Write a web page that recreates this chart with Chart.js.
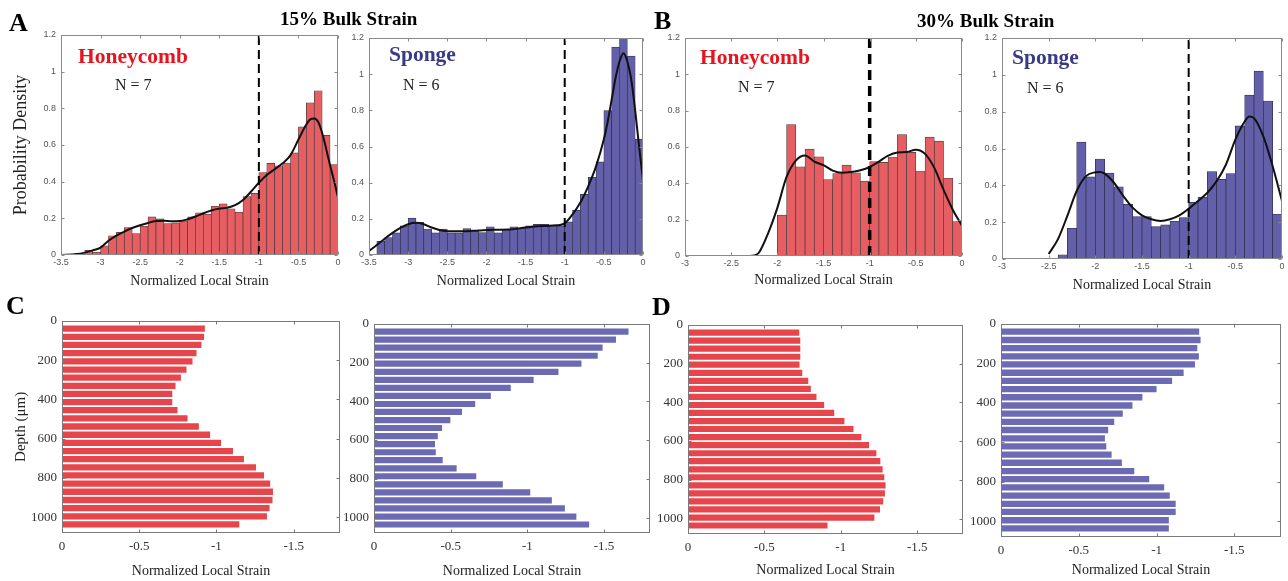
<!DOCTYPE html>
<html><head><meta charset="utf-8">
<script src="https://cdn.jsdelivr.net/npm/chart.js@4.4.1/dist/chart.umd.min.js"></script>
<style>
html,body{margin:0;padding:0;background:#fff;}
body{width:1288px;height:581px;position:relative;overflow:hidden;}
canvas{position:absolute;}
.t{position:absolute;white-space:nowrap;line-height:1;font-family:"Liberation Serif","Times New Roman",serif;}
</style></head><body>
<script>
// ---------------- DATA ----------------
// Histogram tick labels
const histYTicks = [0, 0.2, 0.4, 0.6, 0.8, 1, 1.2];
const histXTicks15 = [-3.5, -3, -2.5, -2, -1.5, -1, -0.5, 0];
const histXTicks30 = [-3, -2.5, -2, -1.5, -1, -0.5, 0];
const thresholdStrain = -1;

// A: 15% bulk strain, Honeycomb (bin centres and densities)
const binsA1 = [-3.15,-3.05,-2.95,-2.85,-2.75,-2.65,-2.55,-2.45,-2.35,-2.25,-2.15,-2.05,-1.95,-1.85,-1.75,-1.65,-1.55,-1.45,-1.35,-1.25,-1.15,-1.05,-0.95,-0.85,-0.75,-0.65,-0.55,-0.45,-0.35,-0.25,-0.15,-0.05];
const densA1 = [0.025,0.016,0.05,0.105,0.124,0.15,0.117,0.157,0.208,0.197,0.172,0.175,0.186,0.208,0.23,0.223,0.266,0.279,0.252,0.234,0.318,0.336,0.45,0.5,0.487,0.502,0.557,0.699,0.83,0.896,0.653,0.493];
const kdeA1X = [-3.5,-3.3,-3.2,-3.1,-3.0,-2.9,-2.8,-2.7,-2.6,-2.5,-2.4,-2.3,-2.2,-2.1,-2.0,-1.9,-1.8,-1.7,-1.6,-1.5,-1.4,-1.3,-1.2,-1.1,-1.0,-0.9,-0.8,-0.7,-0.6,-0.5,-0.4,-0.35,-0.3,-0.25,-0.2,-0.15,-0.1,-0.05,0];
const kdeA1Y = [0,0.005,0.013,0.025,0.04,0.078,0.106,0.128,0.147,0.162,0.175,0.185,0.187,0.184,0.185,0.195,0.21,0.228,0.243,0.253,0.258,0.272,0.3,0.345,0.394,0.436,0.468,0.5,0.545,0.63,0.712,0.74,0.745,0.725,0.665,0.58,0.49,0.405,0.315];

// A: 15% bulk strain, Sponge
const binsA2 = [-3.35,-3.25,-3.15,-3.05,-2.95,-2.85,-2.75,-2.65,-2.55,-2.45,-2.35,-2.25,-2.15,-2.05,-1.95,-1.85,-1.75,-1.65,-1.55,-1.45,-1.35,-1.25,-1.15,-1.05,-0.95,-0.85,-0.75,-0.65,-0.55,-0.45,-0.35,-0.25,-0.15,-0.05];
const densA2 = [0.076,0.096,0.122,0.161,0.204,0.181,0.144,0.122,0.144,0.122,0.122,0.146,0.137,0.124,0.156,0.122,0.141,0.156,0.15,0.161,0.17,0.17,0.163,0.161,0.183,0.248,0.335,0.43,0.515,0.798,1.15,1.2,1.1,0.641];
const kdeA2X = [-3.5,-3.4,-3.3,-3.2,-3.1,-3.0,-2.9,-2.8,-2.7,-2.6,-2.5,-2.3,-2.1,-1.9,-1.7,-1.5,-1.3,-1.1,-1.0,-0.9,-0.8,-0.7,-0.6,-0.5,-0.45,-0.4,-0.35,-0.3,-0.25,-0.2,-0.15,-0.1,-0.05,0];
const kdeA2Y = [0.022,0.055,0.09,0.122,0.15,0.17,0.178,0.17,0.152,0.138,0.132,0.131,0.136,0.14,0.141,0.152,0.16,0.164,0.175,0.225,0.29,0.38,0.49,0.64,0.74,0.86,0.98,1.07,1.115,1.07,0.97,0.8,0.6,0.415];

// B: 30% bulk strain, Honeycomb
const binsB1 = [-1.95,-1.85,-1.75,-1.65,-1.55,-1.45,-1.35,-1.25,-1.15,-1.05,-0.95,-0.85,-0.75,-0.65,-0.55,-0.45,-0.35,-0.25,-0.15,-0.05];
const densB1 = [0.225,0.724,0.491,0.588,0.546,0.421,0.454,0.5,0.458,0.412,0.52,0.515,0.545,0.668,0.57,0.468,0.655,0.632,0.428,0.19];
const kdeB1X = [-2.5,-2.4,-2.3,-2.25,-2.2,-2.1,-2.0,-1.9,-1.8,-1.7,-1.6,-1.5,-1.4,-1.3,-1.2,-1.1,-1.0,-0.9,-0.8,-0.7,-0.6,-0.5,-0.4,-0.3,-0.2,-0.1,0];
const kdeB1Y = [0,0,0,0.003,0.018,0.125,0.265,0.435,0.525,0.553,0.52,0.5,0.47,0.458,0.462,0.472,0.49,0.52,0.553,0.57,0.572,0.585,0.562,0.485,0.365,0.255,0.167];

// B: 30% bulk strain, Sponge
const binsB2 = [-2.35,-2.25,-2.15,-2.05,-1.95,-1.85,-1.75,-1.65,-1.55,-1.45,-1.35,-1.25,-1.15,-1.05,-0.95,-0.85,-0.75,-0.65,-0.55,-0.45,-0.35,-0.25,-0.15,-0.05];
const densB2 = [0.023,0.167,0.635,0.446,0.543,0.466,0.392,0.297,0.23,0.23,0.176,0.185,0.205,0.225,0.308,0.336,0.475,0.432,0.464,0.723,0.89,1.02,0.858,0.243];
const kdeB2X = [-2.5,-2.4,-2.3,-2.2,-2.1,-2.0,-1.95,-1.9,-1.8,-1.7,-1.6,-1.5,-1.4,-1.3,-1.2,-1.1,-1.0,-0.9,-0.8,-0.7,-0.6,-0.5,-0.4,-0.35,-0.3,-0.2,-0.1,0];
const kdeB2Y = [0.027,0.108,0.234,0.369,0.45,0.471,0.473,0.464,0.414,0.342,0.279,0.237,0.216,0.207,0.216,0.237,0.273,0.315,0.36,0.423,0.513,0.648,0.747,0.774,0.765,0.666,0.504,0.315];

// C / D: depth profiles
const depthTicks = [0, 200, 400, 600, 800, 1000];
const strainTicks = [0, -0.5, -1, -1.5];
const depthUm = [40,82,123,165,206,248,289,331,372,414,455,497,538,580,621,663,704,746,787,829,870,912,953,995,1036];
const strainC1 = [-0.925,-0.92,-0.903,-0.871,-0.845,-0.806,-0.77,-0.735,-0.714,-0.714,-0.748,-0.813,-0.886,-0.959,-1.03,-1.107,-1.178,-1.256,-1.308,-1.348,-1.366,-1.363,-1.344,-1.327,-1.148];
const strainC2 = [-1.66,-1.578,-1.491,-1.459,-1.353,-1.203,-1.041,-0.892,-0.762,-0.66,-0.574,-0.498,-0.444,-0.416,-0.398,-0.403,-0.448,-0.539,-0.667,-0.84,-1.019,-1.16,-1.245,-1.32,-1.403];
const strainD1 = [-0.728,-0.735,-0.735,-0.735,-0.73,-0.748,-0.787,-0.804,-0.841,-0.891,-0.957,-1.024,-1.083,-1.135,-1.185,-1.233,-1.259,-1.274,-1.285,-1.293,-1.289,-1.278,-1.257,-1.22,-0.913];
const strainD2 = [-1.274,-1.283,-1.262,-1.272,-1.247,-1.174,-1.1,-1.0,-0.909,-0.845,-0.783,-0.728,-0.689,-0.668,-0.677,-0.711,-0.777,-0.857,-0.953,-1.049,-1.085,-1.123,-1.123,-1.079,-1.079];

// ---------------- RENDER ----------------
const SERIF = "'Liberation Serif', 'Times New Roman', serif";
const SANS = "'Liberation Sans', Arial, sans-serif";
const PAD_TOP = 12, PAD_RIGHT = 14;

const boxPlugin = {
  id: 'matlabBox',
  afterDatasetsDraw(chart, args, opts) {
    const {ctx, chartArea: a, scales} = chart;
    const L = Math.round(a.left) + 0.5, R = Math.round(a.right) - 0.5;
    const T = Math.round(a.top) + 0.5, B = Math.round(a.bottom) - 0.5;
    ctx.save();
    ctx.strokeStyle = opts.color; ctx.lineWidth = 1;
    ctx.strokeRect(L, T, R - L, B - T);
    const len = opts.len;
    ctx.beginPath();
    scales.x.ticks.forEach(t => {
      const p = Math.round(scales.x.getPixelForValue(t.value)) + 0.5;
      ctx.moveTo(p, B); ctx.lineTo(p, B - len);
      ctx.moveTo(p, T); ctx.lineTo(p, T + len);
    });
    scales.y.ticks.forEach(t => {
      const p = Math.round(scales.y.getPixelForValue(t.value)) + 0.5;
      ctx.moveTo(L, p); ctx.lineTo(L + len, p);
      ctx.moveTo(R, p); ctx.lineTo(R - len, p);
    });
    ctx.stroke();
    ctx.restore();
  }
};

function makeCanvas(r, yW, xH) {
  const c = document.createElement('canvas');
  const w = r.R - r.L + yW + PAD_RIGHT, h = r.B - r.T + PAD_TOP + xH;
  c.width = w; c.height = h;
  c.style.left = (r.L - yW) + 'px'; c.style.top = (r.T - PAD_TOP) + 'px';
  c.style.width = w + 'px'; c.style.height = h + 'px';
  document.body.appendChild(c);
  return c;
}

function axis(tickVals, font, color, pad, fitFn, extra) {
  return Object.assign({
    type: 'linear',
    offset: false,
    grid: {display: false, drawTicks: false},
    border: {display: false},
    afterBuildTicks: s => { s.ticks = tickVals.map(v => ({value: v})); },
    afterFit: fitFn,
    ticks: {font, color, padding: pad, autoSkip: false, maxRotation: 0, minRotation: 0,
      callback: v => String(v)}
  }, extra);
}

function xTitle(size) {
  return {display: true, text: 'Normalized Local Strain', color: '#222',
    font: {family: SERIF, size: size}, padding: {top: 0, bottom: 0}};
}

function histChart(p) {
  const c = makeCanvas(p.rect, p.yW, p.xH);
  const tickFont = {family: SANS, size: 9};
  const yExtra = {min: 0, max: 1.2};
  if (p.yTitle) yExtra.title = {display: true, text: p.yTitle, color: '#222',
    font: {family: SERIF, size: 18}, padding: {top: 0, bottom: 0}};
  new Chart(c, {
    type: 'bar',
    data: {datasets: [
      {type: 'line', data: [{x: thresholdStrain, y: 0}, {x: thresholdStrain, y: 1.2}],
        borderColor: '#000', borderWidth: p.dashW, borderDash: p.dash, pointRadius: 0, order: 0},
      {type: 'line', data: p.kdeX.map((x, i) => ({x, y: p.kdeY[i]})),
        borderColor: '#111', borderWidth: 2, pointRadius: 0, cubicInterpolationMode: 'monotone', order: 1},
      {type: 'bar', data: p.bins.map((x, i) => ({x, y: p.dens[i]})),
        backgroundColor: p.color, borderColor: p.edge, borderWidth: 0.7,
        barPercentage: 1, categoryPercentage: 1, order: 2}
    ]},
    options: {
      responsive: false, animation: false, devicePixelRatio: 1,
      layout: {padding: {top: PAD_TOP, right: PAD_RIGHT, left: 0, bottom: 0}},
      plugins: {legend: {display: false}, tooltip: {enabled: false},
        matlabBox: {color: '#8a8a8a', len: 3}},
      scales: {
        x: axis(p.xTicks, tickFont, '#555', 2, s => { s.height = p.xH; },
          {min: p.xTicks[0], max: 0, title: xTitle(14)}),
        y: axis(histYTicks, tickFont, '#555', 5, s => { s.width = p.yW; }, yExtra)
      }
    },
    plugins: [boxPlugin]
  });
}

function depthChart(p) {
  const c = makeCanvas(p.rect, p.yW, p.xH);
  const tickFont = {family: SERIF, size: 13};
  const yExtra = {min: 0, max: 1080, reverse: true};
  if (p.yTitle) yExtra.title = {display: true, text: p.yTitle, color: '#222',
    font: {family: SERIF, size: 15}, padding: {top: 0, bottom: 0}};
  new Chart(c, {
    type: 'bar',
    data: {datasets: [{data: depthUm.map((d, i) => ({x: p.strain[i], y: d})),
      backgroundColor: p.color, borderWidth: 0, barPercentage: 0.78, categoryPercentage: 1}]},
    options: {
      indexAxis: 'y',
      responsive: false, animation: false, devicePixelRatio: 1,
      layout: {padding: {top: PAD_TOP, right: PAD_RIGHT, left: 0, bottom: 0}},
      plugins: {legend: {display: false}, tooltip: {enabled: false},
        matlabBox: {color: '#7a7a7a', len: 3}},
      scales: {
        x: axis(strainTicks, tickFont, '#333', 6, s => { s.height = p.xH; },
          {min: -1.8, max: 0, reverse: true, title: xTitle(14)}),
        y: axis(depthTicks, tickFont, '#333', 5, s => { s.width = p.yW; }, yExtra)
      }
    },
    plugins: [boxPlugin]
  });
}

const RED_H = '#e65e62', BLUE_H = '#635fa9', RED_D = '#e6454b', BLUE_D = '#6c6ab2';

histChart({rect: {L: 61, T: 35, R: 338, B: 255}, yW: 51, xH: 35, xTicks: histXTicks15,
  bins: binsA1, dens: densA1, kdeX: kdeA1X, kdeY: kdeA1Y, color: RED_H, edge: '#4a3a3a',
  dashW: 2, dash: [9, 5], yTitle: 'Probability Density'});
histChart({rect: {L: 369, T: 38, R: 643, B: 255}, yW: 40, xH: 35, xTicks: histXTicks15,
  bins: binsA2, dens: densA2, kdeX: kdeA2X, kdeY: kdeA2Y, color: BLUE_H, edge: '#2e2e50',
  dashW: 2, dash: [9, 5]});
histChart({rect: {L: 685, T: 38, R: 962, B: 256}, yW: 40, xH: 33, xTicks: histXTicks30,
  bins: binsB1, dens: densB1, kdeX: kdeB1X, kdeY: kdeB1Y, color: RED_H, edge: '#4a3a3a',
  dashW: 3.5, dash: [10, 6]});
histChart({rect: {L: 1002, T: 38, R: 1282, B: 259}, yW: 40, xH: 35, xTicks: histXTicks30,
  bins: binsB2, dens: densB2, kdeX: kdeB2X, kdeY: kdeB2Y, color: BLUE_H, edge: '#2e2e50',
  dashW: 2, dash: [9, 5]});

depthChart({rect: {L: 62, T: 320, R: 340, B: 533}, yW: 50, xH: 47, strain: strainC1, color: RED_D, yTitle: 'Depth (μm)'});
depthChart({rect: {L: 374, T: 323, R: 650, B: 533}, yW: 40, xH: 47, strain: strainC2, color: BLUE_D});
depthChart({rect: {L: 688, T: 324, R: 963, B: 534}, yW: 40, xH: 45, strain: strainD1, color: RED_D});
depthChart({rect: {L: 1001, T: 323, R: 1281, B: 537}, yW: 40, xH: 42, strain: strainD2, color: BLUE_D});

// ---------------- TEXT ----------------
function addText(txt, left, baseline, size, weight, color) {
  const d = document.createElement('div');
  d.className = 't';
  d.textContent = txt;
  d.style.left = left + 'px';
  d.style.top = (baseline - 0.8375 * size) + 'px';
  d.style.fontSize = size + 'px';
  d.style.fontWeight = weight;
  d.style.color = color;
  document.body.appendChild(d);
}
addText('A', 9, 32, 26, 'bold', '#000');
addText('B', 654, 30, 26, 'bold', '#000');
addText('C', 6, 315, 26, 'bold', '#000');
addText('D', 652, 316, 26, 'bold', '#000');
addText('15% Bulk Strain', 280, 25, 19, 'bold', '#000');
addText('30% Bulk Strain', 917, 26.5, 19, 'bold', '#000');
addText('Honeycomb', 78, 64, 21.5, 'bold', '#e5141e');
addText('N = 7', 115, 90, 16, 'normal', '#222');
addText('Sponge', 389, 62.5, 21.5, 'bold', '#3a3a86');
addText('N = 6', 403, 90, 16, 'normal', '#222');
addText('Honeycomb', 700, 65, 21.5, 'bold', '#e5141e');
addText('N = 7', 738, 92, 16, 'normal', '#222');
addText('Sponge', 1012, 65, 21.5, 'bold', '#3a3a86');
addText('N = 6', 1027, 93, 16, 'normal', '#222');
</script>
</body></html>
